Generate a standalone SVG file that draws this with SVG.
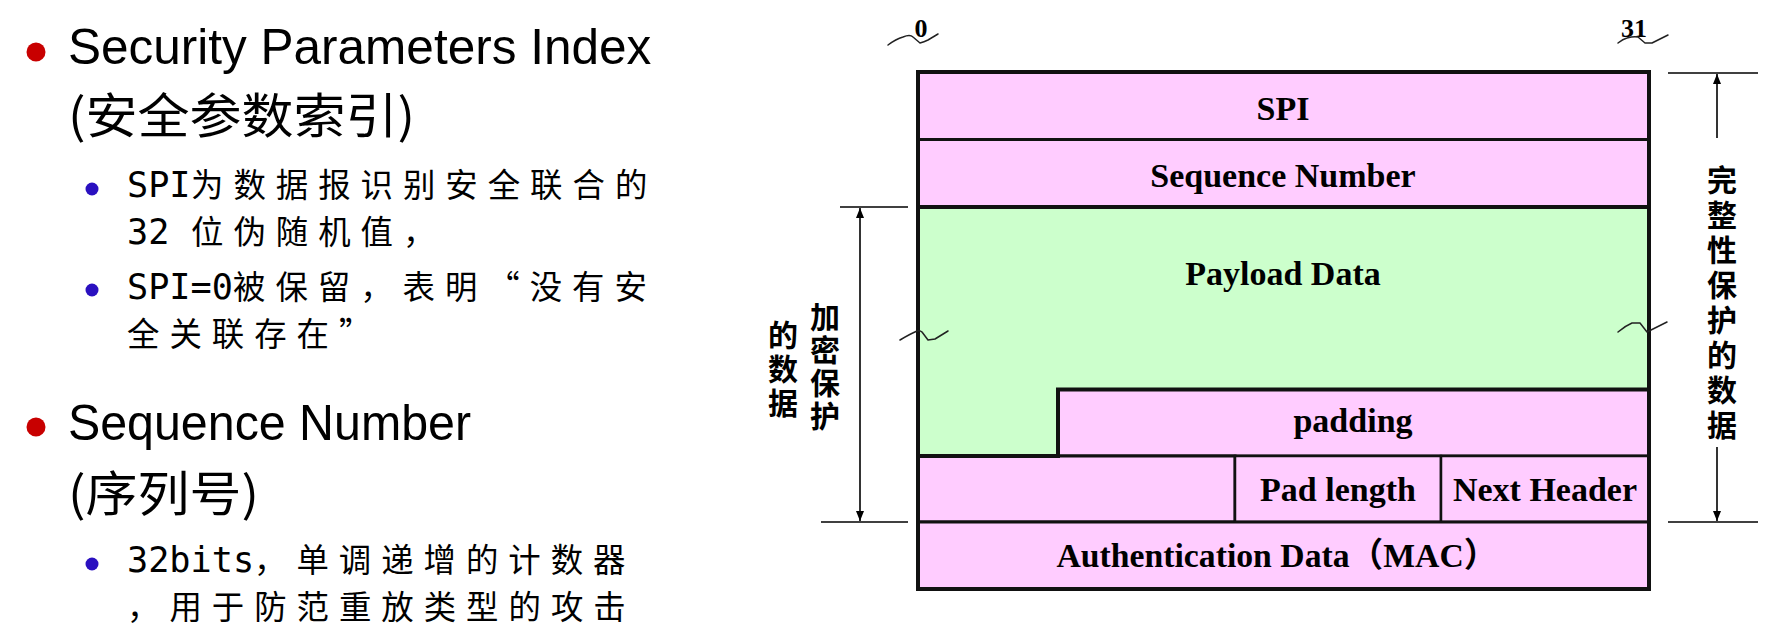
<svg xmlns="http://www.w3.org/2000/svg" width="1765" height="631" viewBox="0 0 1765 631">
<style>
.h{font-family:"Liberation Sans","Noto Sans CJK SC",sans-serif;font-size:49.5px}
.hc{font-family:"Noto Sans CJK SC",sans-serif;font-size:48px}
.s{font-size:32px;fill:#000}
.m{font-family:"DejaVu Sans Mono",monospace;font-size:35.2px;letter-spacing:0}
.c{font-family:"Noto Sans CJK SC",sans-serif;font-size:32.4px;letter-spacing:10px}
.rb{fill:#C80000}
.bb{fill:#2A10C0}
.pink{fill:#FFCCFF;stroke:#111;stroke-width:3}
.green{fill:#CCFFCC;stroke:#111;stroke-width:4}
.thin{fill:#FFCCFF;stroke:#111;stroke-width:2.5}
.lbl{font-family:"Liberation Serif","Noto Sans CJK SC",serif;font-weight:bold;font-size:34px;text-anchor:middle;fill:#000}
.num{font-family:"Liberation Serif",serif;font-weight:bold;font-size:26px;text-anchor:middle;fill:#000}
.vt{font-family:"Noto Sans CJK SC",sans-serif;font-weight:bold;font-size:30px;writing-mode:vertical-rl;fill:#000}
.dim{stroke:#000;stroke-width:1.6;fill:none}
.sq{stroke:#222;stroke-width:1.5;fill:none;stroke-linejoin:round;stroke-linecap:round}
</style>
<defs>
<marker id="arr" viewBox="0 0 10 8" refX="10" refY="4" markerWidth="11" markerHeight="8" markerUnits="userSpaceOnUse" orient="auto-start-reverse">
<path d="M0,0 L10,4 L0,8 z" fill="#000"/>
</marker>
</defs>
<rect width="1765" height="631" fill="#fff"/>

<g id="text-left">
<circle class="rb" cx="36" cy="52" r="9.5"/>
<circle class="bb" cx="92" cy="189" r="6.5"/>
<circle class="bb" cx="92" cy="290" r="6.5"/>
<text class="s" x="68" y="64"><tspan class="h" x="68" y="64">Security Parameters Index</tspan><tspan class="hc" x="68" y="133" textLength="347" lengthAdjust="spacingAndGlyphs">(安全参数索引)</tspan><tspan class="m" x="127" y="197">SPI</tspan><tspan class="c" x="191">为数据报识别安全联合的</tspan><tspan class="m" x="127" y="244">32 </tspan><tspan class="c" x="191">位伪随机值，</tspan><tspan class="m" x="127" y="299">SPI=0</tspan><tspan class="c" x="233">被保留，表明“没有安</tspan><tspan class="c" x="127" y="346">全关联存在”</tspan></text>
<circle class="rb" cx="36" cy="427" r="9.5"/>
<circle class="bb" cx="92" cy="564" r="6.5"/>
<text class="s" x="68" y="440"><tspan class="h" x="68" y="440" textLength="403" lengthAdjust="spacingAndGlyphs">Sequence Number</tspan><tspan class="hc" x="68" y="511" textLength="191" lengthAdjust="spacingAndGlyphs">(序列号)</tspan><tspan class="m" x="127" y="572">32bits</tspan><tspan class="c" x="254">，单调递增的计数器</tspan><tspan class="c" x="127" y="619">，用于防范重放类型的攻击</tspan></text>
</g>

<g id="spi">
<rect class="pink" x="918" y="72" width="731" height="67.5"/>
<text class="lbl" x="1283" y="120">SPI</text>
</g>
<g id="sequence-number">
<rect class="pink" x="918" y="139.5" width="731" height="67.5"/>
<text class="lbl" x="1283" y="187">Sequence Number</text>
</g>
<g id="padding">
<polygon class="pink" points="1058,389.5 1649,389.5 1649,456 1058,456"/>
<text class="lbl" x="1353" y="432">padding</text>
</g>
<g id="pad-row">
<rect class="pink" x="918" y="456" width="317" height="66"/>
</g>
<g id="pad-length">
<rect class="thin" x="1235" y="456" width="206" height="66"/>
<text class="lbl" x="1338" y="501">Pad length</text>
</g>
<g id="next-header">
<rect class="thin" x="1441" y="456" width="208" height="66"/>
<text class="lbl" x="1545" y="501">Next Header</text>
</g>
<g id="payload-data">
<polygon class="green" points="918,207 1649,207 1649,389.5 1058,389.5 1058,456 918,456"/>
<text class="lbl" x="1283" y="285">Payload Data</text>
</g>
<g id="authentication-data">
<rect class="pink" x="918" y="522" width="731" height="67"/>
<text class="lbl" x="1277" y="567" textLength="441" lengthAdjust="spacingAndGlyphs">Authentication Data（MAC）</text>
</g>
<g id="frame">
<rect x="918" y="72" width="731" height="517" fill="none" stroke="#111" stroke-width="4"/>
</g>

<g id="bit-labels">
<text class="num" x="921" y="37">0</text>
<text class="num" x="1634" y="37">31</text>
</g>

<g id="encrypted-label">
<text class="vt" x="825" y="302" letter-spacing="3">加密保护</text>
<text class="vt" x="783" y="320" letter-spacing="4">的数据</text>
</g>

<g id="integrity-label">
<text class="vt" x="1722" y="165" letter-spacing="5">完整性保护的数据</text>
</g>

<g id="connectors">
<line class="dim" x1="840" y1="207" x2="908" y2="207"/>
<line class="dim" x1="821" y1="522" x2="908" y2="522"/>
<line class="dim" x1="860" y1="208" x2="860" y2="521" marker-start="url(#arr)" marker-end="url(#arr)"/>
<line class="dim" x1="1668" y1="73" x2="1758" y2="73"/>
<line class="dim" x1="1668" y1="522" x2="1758" y2="522"/>
<line class="dim" x1="1717" y1="138" x2="1717" y2="74" marker-end="url(#arr)"/>
<line class="dim" x1="1717" y1="447" x2="1717" y2="521" marker-end="url(#arr)"/>
</g>

<g id="break-marks">
<path class="sq" d="M888,45 Q896,39 903,37 Q910,34 913,37 L920,43 Q924,42 928,40 L938,34"/>
<path class="sq" d="M1618,43 Q1623,39 1627,38 Q1634,36 1638,37 L1645,43 L1652,43 L1668,35"/>
<path class="sq" d="M900,340 Q910,334 917,331 Q920,330 922,332 L928,340 L935,339 L948,331"/>
<path class="sq" d="M1618,332 Q1625,326 1632,323 L1640,323 L1647,332 L1653,329 L1667,322"/>
</g>
</svg>
